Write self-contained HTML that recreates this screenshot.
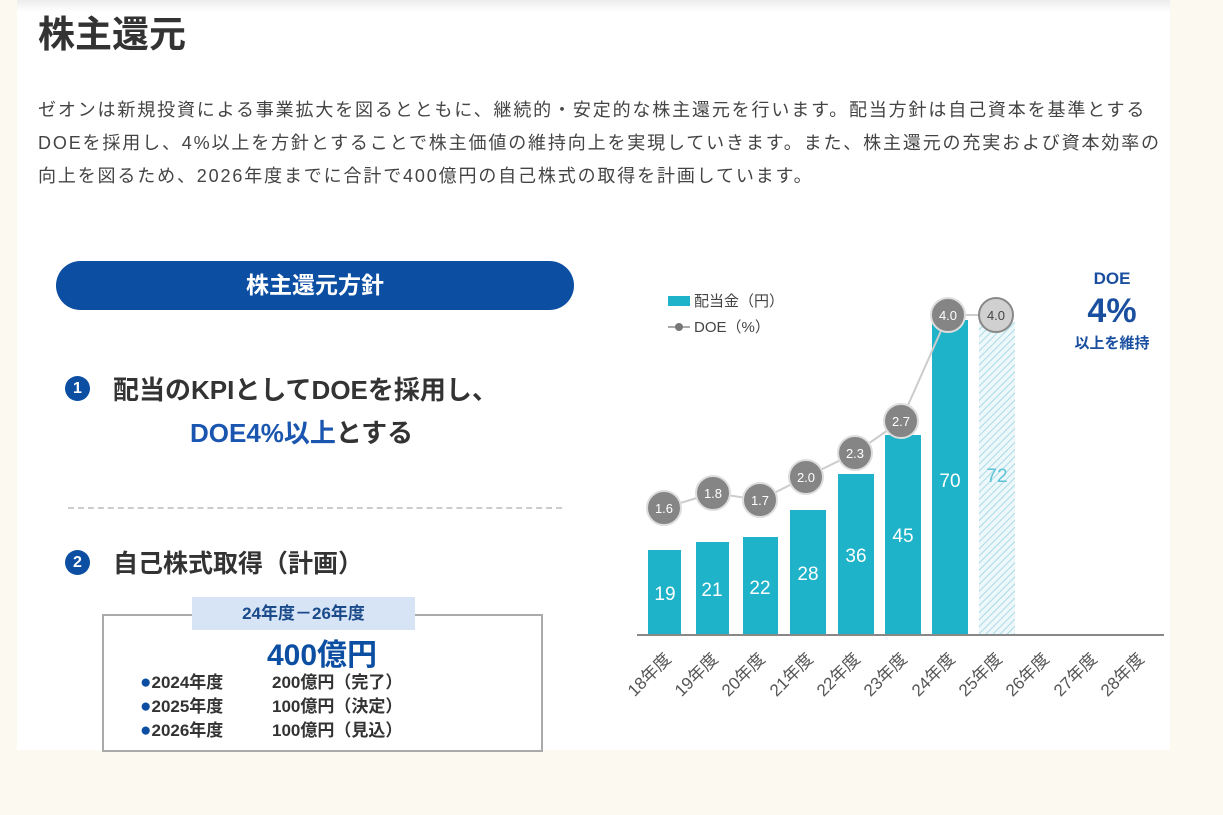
<!DOCTYPE html>
<html><head><meta charset="utf-8"><style>
body{margin:0;width:1223px;height:815px;background:#fcfaf0;font-family:"Liberation Sans","Noto Sans CJK JP",sans-serif;position:relative;overflow:hidden}
.panel{position:absolute;left:17px;top:0;width:1153px;height:750px;background:#fff}
.topbar{position:absolute;left:17px;top:0;width:1153px;height:12px;background:linear-gradient(#ececec,#fff)}
.a{position:absolute;white-space:nowrap}
</style></head><body>
<div class="panel"></div><div class="topbar"></div>
<div class="a" style="left:38px;top:4px;font-size:37px;font-weight:bold;color:#333">株主還元</div>
<div class="a" style="left:38px;top:94px;font-size:18px;letter-spacing:1.85px;line-height:33px;color:#444">ゼオンは新規投資による事業拡大を図るとともに、継続的・安定的な株主還元を行います。配当方針は自己資本を基準とする<br>DOEを採用し、4%以上を方針とすることで株主価値の維持向上を実現していきます。また、株主還元の充実および資本効率の<br>向上を図るため、2026年度までに合計で400億円の自己株式の取得を計画しています。</div>

<div class="a" style="left:56px;top:261px;width:518px;height:49px;border-radius:25px;background:#0b4ea2;color:#fff;font-size:23px;font-weight:bold;text-align:center;line-height:49px">株主還元方針</div>
<div class="a" style="left:65px;top:376px;width:25px;height:25px;border-radius:50%;background:#0b4ea2;color:#fff;font-size:16px;font-weight:bold;text-align:center;line-height:25px">1</div>
<div class="a" style="left:113px;top:370px;font-size:26px;font-weight:bold;color:#333">配当のKPIとしてDOEを採用し、</div>
<div class="a" style="left:190px;top:413px;font-size:26px;font-weight:bold;color:#333"><span style="color:#1a56b0">DOE4%以上</span>とする</div>
<div class="a" style="left:68px;top:507px;width:494px;border-top:2px dashed #ccc"></div>
<div class="a" style="left:65px;top:550px;width:25px;height:25px;border-radius:50%;background:#0b4ea2;color:#fff;font-size:16px;font-weight:bold;text-align:center;line-height:25px">2</div>
<div class="a" style="left:113px;top:544px;font-size:25px;font-weight:bold;color:#333">自己株式取得（計画）</div>
<div class="a" style="left:102px;top:614px;width:437px;height:134px;border:2px solid #aaa"></div>
<div class="a" style="left:192px;top:597px;width:223px;height:33px;background:#d6e4f5;color:#1a4a8a;font-size:17px;font-weight:bold;text-align:center;line-height:33px">24年度－26年度</div>
<div class="a" style="left:222px;top:630px;width:200px;text-align:center;font-size:30px;font-weight:bold;color:#0b4ea2">400億円</div>
<div class="a" style="left:140px;top:671px;font-size:17px;font-weight:bold;color:#333;line-height:24px"><span style="color:#0b4ea2;font-size:19px">●</span>2024年度<br><span style="color:#0b4ea2;font-size:19px">●</span>2025年度<br><span style="color:#0b4ea2;font-size:19px">●</span>2026年度</div>
<div class="a" style="left:272px;top:671px;font-size:17px;font-weight:bold;color:#333;line-height:24px">200億円（完了）<br>100億円（決定）<br>100億円（見込）</div>

<svg class="a" style="left:0;top:0" width="1223" height="815" font-family="Liberation Sans, Noto Sans CJK JP, sans-serif">
<defs><pattern id="h" width="5" height="5" patternUnits="userSpaceOnUse" patternTransform="rotate(45)"><rect width="5" height="5" fill="#eef7fa"/><line x1="0" y1="0" x2="0" y2="5" stroke="#a8dbe6" stroke-width="2"/></pattern></defs>
<rect x="668" y="296" width="22" height="10" fill="#1fb3c9"/>
<text x="694" y="306" font-size="15" fill="#444">配当金（円）</text>
<line x1="668" y1="327" x2="690" y2="327" stroke="#aaa" stroke-width="2"/><circle cx="679" cy="327" r="4" fill="#777"/>
<text x="694" y="332" font-size="15" fill="#444">DOE（%）</text>
<g fill="#1fb3c9">
<rect x="648" y="550" width="33" height="85"/><rect x="696" y="542" width="33" height="93"/><rect x="743" y="537" width="35" height="98"/><rect x="790" y="510" width="36" height="125"/><rect x="838" y="474" width="36" height="161"/><rect x="885" y="435" width="36" height="200"/><rect x="932" y="320" width="36" height="315"/></g>
<rect x="979" y="322" width="36" height="313" fill="url(#h)"/>
<line x1="637" y1="635" x2="1164" y2="635" stroke="#888" stroke-width="2"/>
<g fill="#fff" font-size="19" text-anchor="middle">
<text x="665" y="600">19</text><text x="712" y="596">21</text><text x="760" y="594">22</text><text x="808" y="580">28</text><text x="856" y="562">36</text><text x="903" y="542">45</text><text x="950" y="487">70</text></g>
<text x="997" y="482" fill="#5cc3d6" font-size="19" text-anchor="middle">72</text>
<polyline points="664,508 713,493 760,500 806,477 855,453 901,421 948,315 996,315" fill="none" stroke="#ccc" stroke-width="2"/>
<g stroke="#ddd" stroke-width="2" fill="#858585">
<circle cx="664" cy="508" r="17"/><circle cx="713" cy="493" r="17"/><circle cx="760" cy="500" r="17"/><circle cx="806" cy="477" r="17"/><circle cx="855" cy="453" r="17"/><circle cx="901" cy="421" r="17"/><circle cx="948" cy="315" r="17"/></g>
<circle cx="996" cy="315" r="17" fill="#d0d0d0" stroke="#888" stroke-width="2"/>
<g fill="#fff" font-size="13" text-anchor="middle">
<text x="664" y="513">1.6</text><text x="713" y="498">1.8</text><text x="760" y="505">1.7</text><text x="806" y="482">2.0</text><text x="855" y="458">2.3</text><text x="901" y="426">2.7</text><text x="948" y="320">4.0</text></g>
<text x="996" y="320" fill="#444" font-size="13" text-anchor="middle">4.0</text>
<g fill="#555" font-size="17" text-anchor="end">
<text transform="translate(672,660) rotate(-45)">18年度</text>
<text transform="translate(719,660) rotate(-45)">19年度</text>
<text transform="translate(766,660) rotate(-45)">20年度</text>
<text transform="translate(814,660) rotate(-45)">21年度</text>
<text transform="translate(861,660) rotate(-45)">22年度</text>
<text transform="translate(908,660) rotate(-45)">23年度</text>
<text transform="translate(956,660) rotate(-45)">24年度</text>
<text transform="translate(1003,660) rotate(-45)">25年度</text>
<text transform="translate(1050,660) rotate(-45)">26年度</text>
<text transform="translate(1098,660) rotate(-45)">27年度</text>
<text transform="translate(1145,660) rotate(-45)">28年度</text></g>
<g fill="#1a4fa0" font-weight="bold" text-anchor="middle">
<text x="1112" y="284" font-size="17">DOE</text>
<text x="1112" y="322" font-size="34">4%</text>
<text x="1112" y="348" font-size="15">以上を維持</text></g>
</svg>
</body></html>
